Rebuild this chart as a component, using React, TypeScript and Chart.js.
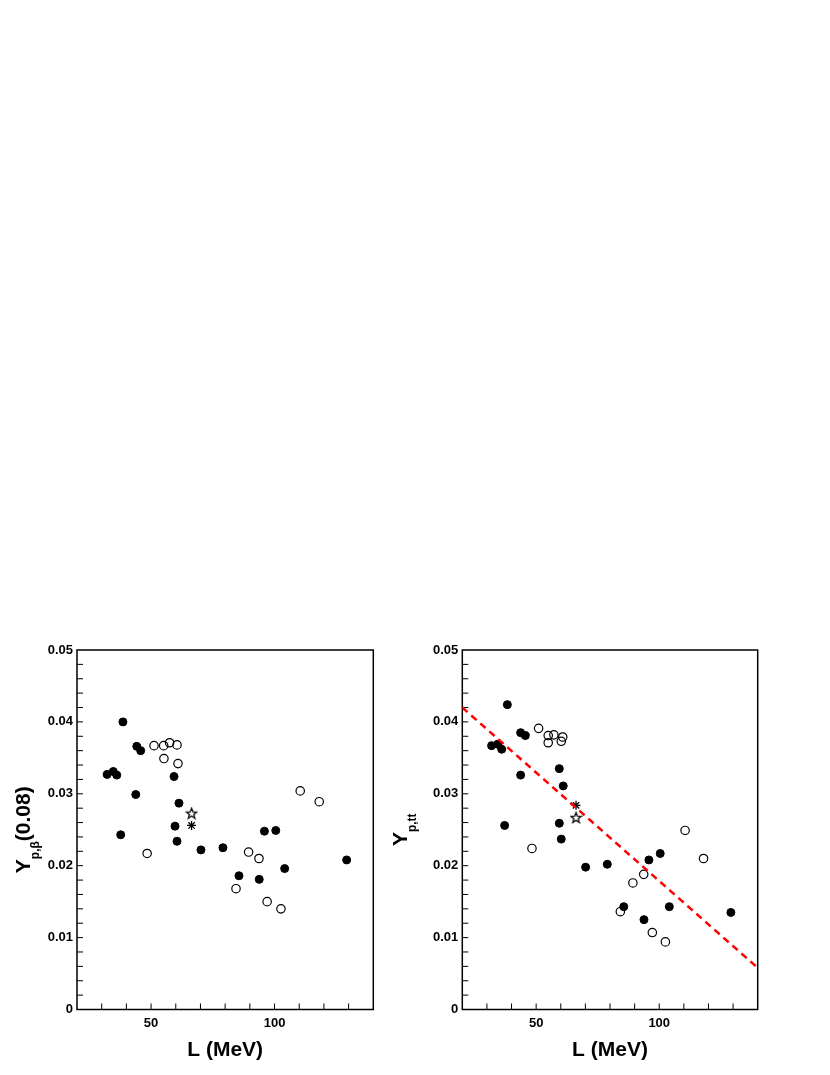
import React, { useEffect, useRef } from "react";
import { Chart, registerables } from "chart.js";

Chart.register(...registerables);

const FONT = "'Liberation Sans', Arial, Helvetica, sans-serif";

// ---- axes ----
const xMin = 20;
const xMax = 140;
const yMin = 0;
const yMax = 0.05;
const xTickLabels = [50, 100];
const yTickLabels = [0, 0.01, 0.02, 0.03, 0.04, 0.05];
const xMinorStep = 10;
const yMinorStep = 0.002;
const xTitle = "L (MeV)";

// ---- left panel: Y_{p,beta}(0.08) ----
const betaFilledL = [32.2, 34.7, 36.1, 38.6, 44.2, 45.8, 43.8, 59.3, 61.3, 59.7, 37.7, 60.5, 70.2, 79.1, 95.9, 100.5, 85.6, 93.8, 104.1, 129.2];
const betaFilledY = [0.0327, 0.0331, 0.0326, 0.0400, 0.0366, 0.0360, 0.0299, 0.0324, 0.0287, 0.0255, 0.0243, 0.0234, 0.0222, 0.0225, 0.0248, 0.0249, 0.0186, 0.0181, 0.0196, 0.0208];
const betaOpenL = [51.2, 55.1, 57.5, 60.5, 55.2, 60.9, 110.4, 118.1, 48.4, 89.5, 93.7, 84.4, 97.0, 102.6];
const betaOpenY = [0.0367, 0.0367, 0.0371, 0.0368, 0.0349, 0.0342, 0.0304, 0.0289, 0.0217, 0.0219, 0.0210, 0.0168, 0.0150, 0.0140];
const betaStarL = [66.4];
const betaStarY = [0.0273];
const betaAstL = [66.4];
const betaAstY = [0.0256];

// ---- right panel: Y_{p,tt} ----
const ttFilledL = [31.9, 34.4, 36.0, 38.3, 43.7, 45.6, 43.7, 59.4, 61.0, 37.2, 59.4, 60.2, 70.1, 78.9, 95.8, 100.4, 85.6, 93.8, 104.1, 129.1];
const ttFilledY = [0.0367, 0.0369, 0.0362, 0.0424, 0.0385, 0.0381, 0.0326, 0.0335, 0.0311, 0.0256, 0.0259, 0.0237, 0.0198, 0.0202, 0.0208, 0.0217, 0.0143, 0.0125, 0.0143, 0.0135];
const ttOpenL = [51.0, 54.9, 54.9, 57.2, 60.8, 60.2, 110.5, 48.3, 89.3, 93.7, 84.2, 97.2, 102.5, 118.0];
const ttOpenY = [0.0391, 0.0381, 0.0371, 0.0382, 0.0379, 0.0373, 0.0249, 0.0224, 0.0176, 0.0188, 0.0136, 0.0107, 0.0094, 0.0210];
const ttStarL = [66.2];
const ttStarY = [0.0267];
const ttAstL = [66.2];
const ttAstY = [0.0284];
const ttFitL = [20, 140];
const ttFitY = [0.0420, 0.0058];

const pts = (xs: number[], ys: number[]) => xs.map((x, i) => ({ x, y: ys[i] }));

function makeOpenStar(size: number): HTMLCanvasElement {
  const c = document.createElement("canvas");
  c.width = size;
  c.height = size;
  const g = c.getContext("2d")!;
  const cx = size / 2;
  const cy = size / 2 + 0.5;
  const R = size / 2 - 1;
  const r = R * 0.42;
  g.beginPath();
  for (let i = 0; i < 10; i++) {
    const ang = -Math.PI / 2 + (i * Math.PI) / 5;
    const rad = i % 2 === 0 ? R : r;
    const px = cx + rad * Math.cos(ang);
    const py = cy + rad * Math.sin(ang);
    if (i === 0) g.moveTo(px, py);
    else g.lineTo(px, py);
  }
  g.closePath();
  g.strokeStyle = "#000";
  g.lineWidth = 1.3;
  g.lineJoin = "miter";
  g.stroke();
  return c;
}

type PanelProps = {
  left: number;
  top: number;
  width: number;
  height: number;
  yAxisWidth: number;
  padRight: number;
  titleX: number;
  titleMain: string;
  titleSub: string;
  titleTail: string;
  filled: { x: number; y: number }[];
  open: { x: number; y: number }[];
  star: { x: number; y: number }[];
  ast: { x: number; y: number }[];
  fit?: { x: number; y: number }[];
};

function Panel(p: PanelProps) {
  const ref = useRef<HTMLCanvasElement>(null);
  useEffect(() => {
    if (!ref.current) return;
    const starImg = makeOpenStar(13);
    const framePlugin = {
      id: "rootFrame",
      beforeDatasetsDraw(chart: any) {
        const { ctx, chartArea: a, scales } = chart;
        const xs = scales.x;
        const ys = scales.y;
        ctx.save();
        ctx.strokeStyle = "#000";
        ctx.lineWidth = 1;
        ctx.beginPath();
        for (let i = 1; i * yMinorStep < yMax - 1e-9; i++) {
          const py = ys.getPixelForValue(yMin + i * yMinorStep);
          ctx.moveTo(a.left, py);
          ctx.lineTo(a.left + 6, py);
        }
        for (let v = xMin + xMinorStep; v < xMax - 1e-9; v += xMinorStep) {
          const px = xs.getPixelForValue(v);
          ctx.moveTo(px, a.bottom);
          ctx.lineTo(px, a.bottom - 6);
        }
        ctx.stroke();
        ctx.lineWidth = 1.5;
        ctx.strokeRect(a.left, a.top, a.right - a.left, a.bottom - a.top);
        ctx.restore();
      },
      afterDraw(chart: any) {
        const { ctx, chartArea: a } = chart;
        const big = `bold 21px ${FONT}`;
        const small = `bold 12px ${FONT}`;
        ctx.save();
        ctx.fillStyle = "#000";
        ctx.font = big;
        const w1 = ctx.measureText(p.titleMain).width;
        const w3 = ctx.measureText(p.titleTail).width;
        ctx.font = small;
        const w2 = ctx.measureText(p.titleSub).width;
        const total = w1 + w2 + w3;
        ctx.translate(p.titleX, (a.top + a.bottom) / 2);
        ctx.rotate(-Math.PI / 2);
        ctx.textAlign = "left";
        ctx.textBaseline = "alphabetic";
        let x = -total / 2;
        ctx.font = big;
        ctx.fillText(p.titleMain, x, 0);
        x += w1;
        ctx.font = small;
        ctx.fillText(p.titleSub, x, 9);
        x += w2;
        if (p.titleTail) {
          ctx.font = big;
          ctx.fillText(p.titleTail, x, 0);
        }
        ctx.restore();
      },
    };

    const datasets: any[] = [
      {
        label: "filled",
        data: p.filled,
        pointStyle: "circle",
        pointRadius: 4,
        pointBackgroundColor: "#000",
        pointBorderColor: "#000",
        pointBorderWidth: 1,
        order: 5,
      },
      {
        label: "open",
        data: p.open,
        pointStyle: "circle",
        pointRadius: 4.2,
        pointBackgroundColor: "rgba(0,0,0,0)",
        pointBorderColor: "#000",
        pointBorderWidth: 1.2,
        order: 4,
      },
      {
        label: "star",
        data: p.star,
        pointStyle: starImg,
        pointRadius: 5,
        order: 3,
      },
      {
        label: "asterisk",
        data: p.ast,
        pointStyle: "star",
        pointRadius: 4.5,
        pointBorderColor: "#000",
        pointBorderWidth: 1.3,
        order: 2,
      },
    ];
    if (p.fit) {
      datasets.push({
        label: "fit",
        data: p.fit,
        showLine: true,
        borderColor: "#ff0000",
        borderWidth: 2.5,
        borderDash: [7, 5],
        pointRadius: 0,
        tension: 0,
        order: 1,
      });
    }

    const tickFont = { family: FONT, size: 13, weight: "bold" as const };
    const chart = new Chart(ref.current, {
      type: "scatter",
      data: { datasets },
      options: {
        animation: false,
        responsive: false,
        devicePixelRatio: 1,
        events: [],
        layout: { padding: { top: 40, right: p.padRight, bottom: 0, left: 0 } },
        plugins: { legend: { display: false }, tooltip: { enabled: false } },
        scales: {
          x: {
            type: "linear",
            min: xMin,
            max: xMax,
            grid: { display: false, drawTicks: false },
            border: { display: false },
            afterBuildTicks: (scale: any) => {
              scale.ticks = xTickLabels.map((v) => ({ value: v }));
            },
            afterFit: (scale: any) => {
              scale.height = 55.5;
            },
            ticks: {
              autoSkip: false,
              maxRotation: 0,
              padding: 6,
              color: "#000",
              font: tickFont,
              callback: (v: any) => String(v),
            },
            title: {
              display: true,
              text: xTitle,
              color: "#000",
              font: { family: FONT, size: 21, weight: "bold" },
              padding: { top: 0, bottom: 2 },
            },
          },
          y: {
            type: "linear",
            min: yMin,
            max: yMax,
            grid: { display: false, drawTicks: false },
            border: { display: false },
            afterBuildTicks: (scale: any) => {
              scale.ticks = yTickLabels.map((v) => ({ value: v }));
            },
            afterFit: (scale: any) => {
              scale.width = p.yAxisWidth;
            },
            ticks: {
              autoSkip: false,
              padding: 4,
              color: "#000",
              font: tickFont,
              callback: (v: any) => String(v),
            },
          },
        },
      },
      plugins: [framePlugin],
    } as any);
    return () => chart.destroy();
  }, []);
  return (
    <canvas
      ref={ref}
      width={p.width}
      height={p.height}
      style={{ position: "absolute", left: p.left, top: p.top, width: p.width, height: p.height }}
    />
  );
}

export default function App() {
  return (
    <div style={{ position: "relative", width: 814, height: 1057 }}>
      <Panel
        left={-8}
        top={602}
        width={415}
        height={455}
        yAxisWidth={77}
        padRight={41.7}
        titleX={30}
        titleMain="Y"
        titleSub="p,β"
        titleTail="(0.08)"
        filled={pts(betaFilledL, betaFilledY)}
        open={pts(betaOpenL, betaOpenY)}
        star={pts(betaStarL, betaStarY)}
        ast={pts(betaAstL, betaAstY)}
      />
      <Panel
        left={377}
        top={602}
        width={445}
        height={455}
        yAxisWidth={77.3}
        padRight={72.3}
        titleX={22}
        titleMain="Y"
        titleSub="p,tt"
        titleTail=""
        filled={pts(ttFilledL, ttFilledY)}
        open={pts(ttOpenL, ttOpenY)}
        star={pts(ttStarL, ttStarY)}
        ast={pts(ttAstL, ttAstY)}
        fit={pts(ttFitL, ttFitY)}
      />
    </div>
  );
}
